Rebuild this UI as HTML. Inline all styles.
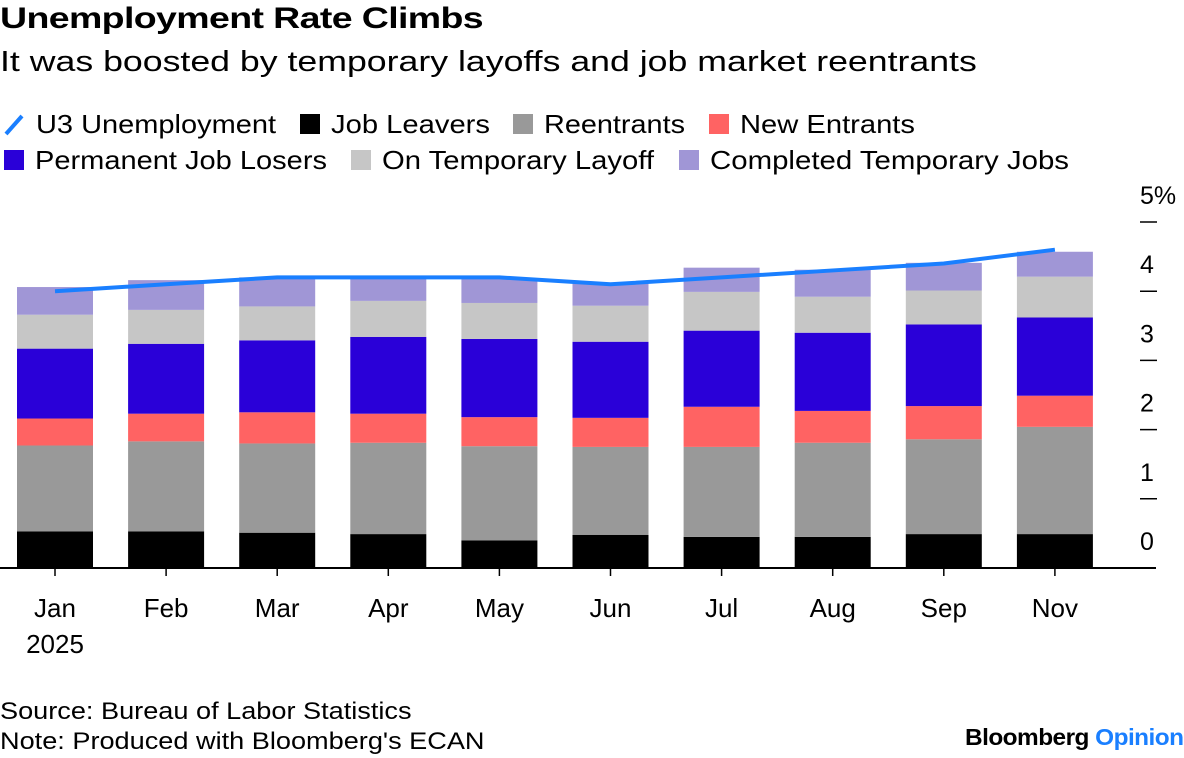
<!DOCTYPE html>
<html><head><meta charset="utf-8"><style>
body{margin:0;background:#fff;font-family:"Liberation Sans",Arial,sans-serif;}
#wrap{position:relative;width:1184px;height:758px;overflow:hidden;}
.t{position:absolute;white-space:nowrap;color:#000;transform-origin:0 0;}
</style></head><body>
<div id="wrap">
<div class="t" style="left:0;top:2px;font-size:30px;font-weight:bold;letter-spacing:-0.5px;transform:scaleX(1.25)">Unemployment Rate Climbs</div>
<div class="t" style="left:0;top:46px;font-size:29px;transform:scaleX(1.23)">It was boosted by temporary layoffs and job market reentrants</div>
<svg id="chart" width="1184" height="758" style="position:absolute;left:0;top:0"></svg>
<div class="t" style="left:0;top:698px;font-size:24px;transform:scaleX(1.13)">Source: Bureau of Labor Statistics</div>
<div class="t" style="left:0;top:728px;font-size:24px;transform:scaleX(1.13)">Note: Produced with Bloomberg's ECAN</div>
<div class="t" style="left:965px;top:724px;font-size:23px;font-weight:bold;letter-spacing:-0.5px;transform:scaleX(1.06)">Bloomberg <span style="color:#1a7fff">Opinion</span></div>
</div>
<script>
const months=["Jan","Feb","Mar","Apr","May","Jun","Jul","Aug","Sep","Nov"];
const leavers=[0.53,0.53,0.51,0.49,0.40,0.48,0.45,0.45,0.49,0.49];
const reentrants=[1.24,1.30,1.29,1.32,1.36,1.27,1.30,1.36,1.37,1.55];
const newEntrants=[0.39,0.40,0.45,0.42,0.42,0.42,0.58,0.46,0.48,0.45];
const permLosers=[1.01,1.01,1.04,1.11,1.13,1.10,1.10,1.13,1.18,1.13];
const tempLayoff=[0.49,0.49,0.49,0.52,0.52,0.52,0.56,0.52,0.49,0.59];
const completedTemp=[0.40,0.43,0.42,0.33,0.36,0.33,0.35,0.39,0.40,0.36];
const u3=[4.0,4.1,4.2,4.2,4.2,4.1,4.2,4.3,4.4,4.6];
const yTicks=[0,1,2,3,4,5];
const yLabels=["0","1","2","3","4","5%"];

const NS="http://www.w3.org/2000/svg";
const svg=document.getElementById('chart');
const y0=568,pxPer=69.2;
const y=v=>y0-v*pxPer;
const x=i=>55+i*111.1;
const bw=76;
function mk(tag,attrs){const e=document.createElementNS(NS,tag);for(const k in attrs)e.setAttribute(k,attrs[k]);svg.appendChild(e);return e;}

const series=[
 {name:"Job Leavers",data:leavers,color:"#000000"},
 {name:"Reentrants",data:reentrants,color:"#999999"},
 {name:"New Entrants",data:newEntrants,color:"#ff6363"},
 {name:"Permanent Job Losers",data:permLosers,color:"#2a00d8"},
 {name:"On Temporary Layoff",data:tempLayoff,color:"#c6c6c6"},
 {name:"Completed Temporary Jobs",data:completedTemp,color:"#a096d6"}
];
months.forEach((m,i)=>{
 let base=0;
 series.forEach(s=>{
  const v=s.data[i];
  const r=mk('rect',{x:x(i)-bw/2,y:y(base+v),width:bw,height:v*pxPer,fill:s.color});
  
  
  base+=v;
 });
});
const ax=mk('line',{x1:0,x2:1156,y1:y0,y2:y0,stroke:"#000","stroke-width":2});


months.forEach((m,i)=>{
 const tk=mk('line',{x1:x(i),x2:x(i),y1:y0,y2:y0+8,stroke:"#000","stroke-width":1.5});
 
 
 const t=mk('text',{x:x(i),y:617,"text-anchor":"middle","font-size":26,fill:"#000"});
 t.textContent=m;
 
 
});
const yr=mk('text',{x:55,y:653,"text-anchor":"middle","font-size":26,fill:"#000"});
yr.textContent="2025";


yTicks.forEach((v,i)=>{
 if(v>0){
  const tk=mk('line',{x1:1140,x2:1157,y1:y(v),y2:y(v),stroke:"#000","stroke-width":1.5});
  
  
 }
 const t=mk('text',{x:1140,y:y(v)-18,"font-size":25,fill:"#000"});
 t.textContent=yLabels[i];
 
 
});
const pts=u3.map((v,i)=>x(i)+','+y(v)).join(' ');
const ln=mk('polyline',{points:pts,fill:"none",stroke:"#1a7fff","stroke-width":4,"stroke-linejoin":"round"});


const leg=[
 {n:"U3 Unemployment",c:"#1a7fff",x:0,y:124,line:true,w:240},
 {n:"Job Leavers",c:"#000",x:300,y:124,w:159},
 {n:"Reentrants",c:"#999999",x:513,y:124,w:141},
 {n:"New Entrants",c:"#ff6363",x:709,y:124,w:175},
 {n:"Permanent Job Losers",c:"#2a00d8",x:4,y:160,w:292},
 {n:"On Temporary Layoff",c:"#c6c6c6",x:351,y:160,w:272},
 {n:"Completed Temporary Jobs",c:"#a096d6",x:679,y:160,w:359}
];
leg.forEach(l=>{
 const g=document.createElementNS(NS,'g');svg.appendChild(g);
 
 
 let tx;
 if(l.line){
  const s=document.createElementNS(NS,'line');
  s.setAttribute('x1',6);s.setAttribute('y1',l.y+10);s.setAttribute('x2',22);s.setAttribute('y2',l.y-8);
  s.setAttribute('stroke',l.c);s.setAttribute('stroke-width',4);g.appendChild(s);tx=36;
 } else {
  const r=document.createElementNS(NS,'rect');
  r.setAttribute('x',l.x);r.setAttribute('y',l.y-10);r.setAttribute('width',20);r.setAttribute('height',20);
  r.setAttribute('fill',l.c);g.appendChild(r);tx=l.x+31;
 }
 const t=document.createElementNS(NS,'text');
 t.setAttribute('x',tx);t.setAttribute('y',l.y+9);t.setAttribute('font-size',26);
 t.setAttribute('textLength',l.w);t.setAttribute('lengthAdjust','spacingAndGlyphs');
 t.textContent=l.n;g.appendChild(t);
});
</script>
</body></html>
